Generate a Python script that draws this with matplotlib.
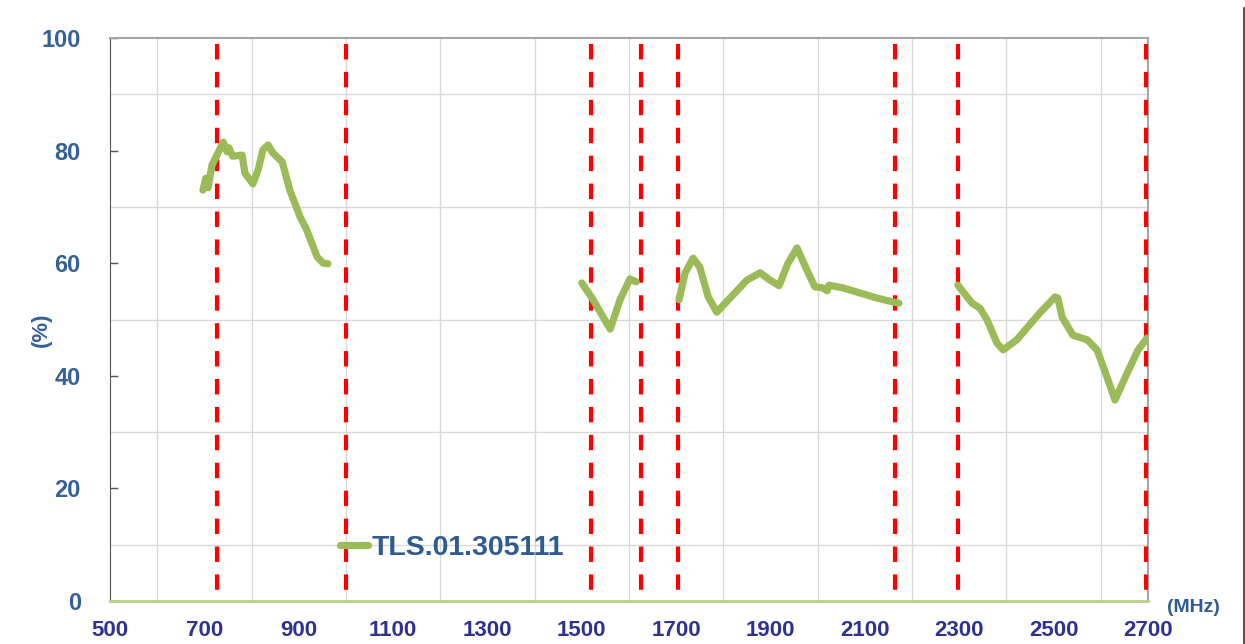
import matplotlib
matplotlib.use("Agg")
import matplotlib.pyplot as plt
from matplotlib.lines import Line2D

plt.rcParams['font.family'] = ['Liberation Sans', 'DejaVu Sans']

series_name = "TLS.01.305111"

band1_x = [697, 703, 708, 716, 729, 740, 748, 752, 760, 780, 786, 803, 814, 824, 835, 845, 865, 881, 903, 917, 939, 952, 962]
band1_y = [73.0, 75.1, 73.4, 77.4, 79.6, 81.5, 79.8, 80.5, 79.0, 79.2, 76.0, 74.1, 76.6, 80.1, 81.0, 79.6, 78.0, 73.0, 68.2, 65.9, 61.1, 60.0, 59.9]

band2_x = [1500, 1524, 1560, 1581, 1602, 1615]
band2_y = [56.5, 53.5, 48.3, 53.5, 57.2, 56.7]

band3_x = [1706, 1719, 1736, 1750, 1768, 1786, 1814, 1850, 1878, 1899, 1918, 1937, 1956, 1977, 1994, 2011, 2020, 2024, 2054, 2126, 2160, 2172]
band3_y = [53.5, 58.3, 60.9, 59.3, 54.0, 51.3, 53.8, 57.0, 58.3, 57.0, 56.0, 60.0, 62.7, 58.8, 55.8, 55.6, 55.1, 56.1, 55.6, 53.8, 53.1, 52.9]

band4_x = [2297, 2327, 2344, 2359, 2380, 2393, 2422, 2471, 2503, 2509, 2518, 2541, 2571, 2592, 2613, 2630, 2656, 2679, 2698]
band4_y = [56.1, 52.9, 52.0, 49.9, 45.8, 44.6, 46.4, 51.2, 54.0, 53.8, 50.4, 47.2, 46.4, 44.6, 39.8, 35.7, 40.5, 44.6, 46.7]

band_edges = [726, 1000, 1520, 1625, 1704, 2164, 2298, 2696]

x_ticks = [500, 700, 900, 1100, 1300, 1500, 1700, 1900, 2100, 2300, 2500, 2700]
y_ticks = [0, 20, 40, 60, 80, 100]

green = '#9BBB59'
ylab_color = '#36609A'
xlab_color = '#2E3192'

fig = plt.figure(figsize=(12.45, 6.44), dpi=100)
ax = fig.add_axes([110/1245, 1-601/644, (1148-110)/1245, (601-38)/644])

ax.set_xlim(500, 2700)
ax.set_ylim(0, 100)

# grid
ax.set_xticks(range(500, 2701, 100), minor=True)
ax.set_yticks(range(0, 101, 10), minor=True)
ax.grid(which='minor', color='#D9D9D9', linewidth=1.0)
ax.set_axisbelow(True)

ax.set_xticks(x_ticks)
ax.set_xticklabels([str(v) for v in x_ticks])
ax.set_yticks(y_ticks)
ax.set_yticklabels([str(v) for v in y_ticks])

ax.tick_params(axis='x', which='both', length=0, pad=14, labelsize=16, labelcolor=xlab_color)
for t in ax.get_xticklabels():
    t.set_fontweight('bold')
ax.tick_params(axis='y', which='major', direction='in', length=6, width=1, color='#555555',
               pad=21, labelsize=17, labelcolor=ylab_color)
ax.tick_params(axis='y', which='minor', length=0)
for t in ax.get_yticklabels():
    t.set_fontweight('bold')

ax.spines['left'].set_color('#555555')
ax.spines['top'].set_color('#A6A6A6')
ax.spines['right'].set_color('#A6A6A6')
ax.spines['bottom'].set_color('#B5D18A')
ax.spines['top'].set_linewidth(1.5)
ax.spines['right'].set_linewidth(1.5)
ax.spines['bottom'].set_linewidth(2)

# band edges (drawn top-down so the dash pattern starts at the top)
for xe in band_edges:
    ax.plot([xe, xe], [99.0, 0], color='#FF0000', linewidth=3,
            linestyle=(0, (3.7, 3.0)), zorder=3, dash_capstyle='butt')

# data
kw = dict(color=green, linewidth=5.2, solid_capstyle='round', solid_joinstyle='round', zorder=4)
ax.plot(band1_x, band1_y, label=series_name, **kw)
ax.plot(band2_x, band2_y, **kw)
ax.plot(band3_x, band3_y, **kw)
ax.plot(band4_x, band4_y, **kw)

leg = ax.legend(loc='center left', bbox_to_anchor=((340-110)/1038, (601-548)/563),
                frameon=False, handlelength=1.0, handletextpad=0.12,
                prop={'size': 20.5, 'weight': 'bold'}, borderaxespad=0, borderpad=0)
for txt in leg.get_texts():
    txt.set_color('#2F5C8F')

ax.set_ylabel('(%)', fontsize=16, fontweight='bold', color=ylab_color)
ax.yaxis.set_label_coords(-58/1038, (601-330)/563)

fig.text(1193/1245, 1-607/644, '(MHz)', fontsize=14, fontweight='bold', color='#2F5C8F',
         ha='center', va='center')

fig.add_artist(Line2D([1243.5/1245, 1243.5/1245], [0, 1-8/644], color='#333333', linewidth=1.2))

fig.savefig('out.png', dpi=100)
